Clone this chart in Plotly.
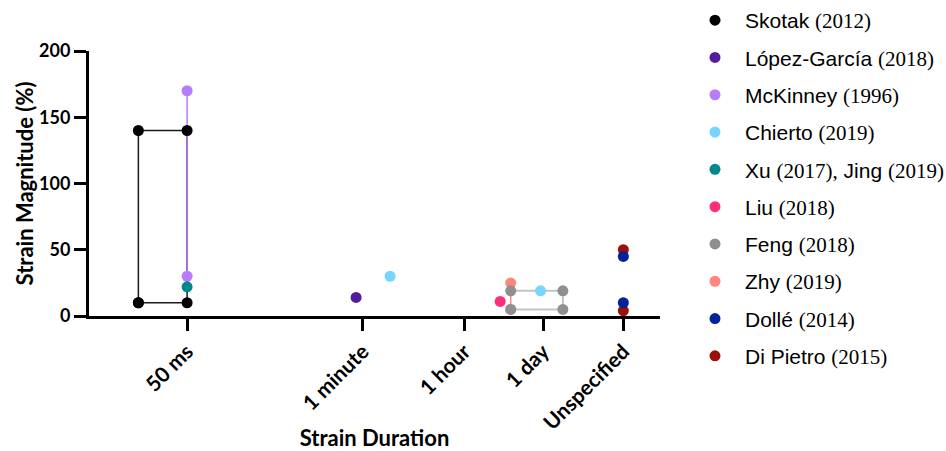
import plotly.graph_objects as go

# ---- data ----
UNSPEC = 2.2e6  # position used for "Unspecified" duration (seconds, log axis)
tick_vals = [0.05, 60, 3600, 86400, UNSPEC]
tick_text = ["50 ms", "1 minute", "1 hour", "1 day", "Unspecified"]
y_ticks = [0, 50, 100, 150, 200]

skotak_x = [0.0070, 0.0070, 0.05, 0.05, 0.0070]
skotak_y = [10, 140, 140, 10, 10]
mckinney_x = [0.05, 0.05]
mckinney_y = [170, 30]
xu_x = [0.05]
xu_y = [22]
lopez_x = [45.7]
lopez_y = [14]
liu_x = [15300]
liu_y = [11]
zhy_x = [23400, 23400]
zhy_y = [25, 5]
feng_x = [23400, 192000, 192000, 23400]
feng_y = [19, 19, 5, 5]
chierto_x = [180, 78000]
chierto_y = [30, 19]
dipietro_x = [UNSPEC, UNSPEC]
dipietro_y = [50, 4]
dolle_x = [UNSPEC, UNSPEC]
dolle_y = [45, 10]

SERIF = "font-family:'Liberation Serif', 'Times New Roman', serif"
def lab(name, year):
    return f'{name} <span style="{SERIF}">{year}</span>'

series = [
    # (x, y, name, marker colour, connecting-line colour or None, legend rank)
    (skotak_x, skotak_y, lab("Skotak", "(2012)"), "#000000", "#1a1a1a", 1),
    (mckinney_x, mckinney_y, lab("McKinney", "(1996)"), "#b77cff", "#b77cff", 3),
    (xu_x, xu_y, f'Xu <span style="{SERIF}">(2017),</span> Jing <span style="{SERIF}">(2019)</span>', "#00898b", None, 5),
    (lopez_x, lopez_y, lab("López-García", "(2018)"), "#531c9b", None, 2),
    (liu_x, liu_y, lab("Liu", "(2018)"), "#ff2d7a", None, 6),
    (zhy_x, zhy_y, lab("Zhy", "(2019)"), "#ff857d", "#ff857d", 8),
    (feng_x, feng_y, lab("Feng", "(2018)"), "#8f8f8f", "#c4c4c4", 7),
    (chierto_x, chierto_y, lab("Chierto", "(2019)"), "#77d6ff", None, 4),
    (dipietro_x, dipietro_y, lab("Di Pietro", "(2015)"), "#9b1208", None, 10),
    (dolle_x, dolle_y, lab("Dollé", "(2014)"), "#06229a", None, 9),
]

fig = go.Figure()
# connecting lines first (no legend entries)
for x, y, name, mc, lc, rank in series:
    if lc:
        fig.add_trace(go.Scatter(
            x=x, y=y, mode="lines", showlegend=False, hoverinfo="skip",
            line=dict(color=lc, width=2 if lc == "#c4c4c4" else 1.5),
        ))
# markers on top
for x, y, name, mc, lc, rank in series:
    fig.add_trace(go.Scatter(
        x=x, y=y, name=name, mode="markers",
        marker=dict(color=mc, size=11, line=dict(width=0)),
        legendrank=rank, legendgroup=f"g{rank}",
    ))

fig.update_layout(
    width=946, height=451,
    margin=dict(l=89, r=286, t=51, b=135),
    paper_bgcolor="white", plot_bgcolor="white",
    showlegend=True,
    legend=dict(
        x=685 / 946, xref="container", xanchor="left",
        y=1.0, yref="container", yanchor="top",
        font=dict(family="Liberation Sans, Arial, sans-serif", size=21, color="#000000"),
        tracegroupgap=7, itemwidth=50, bgcolor="rgba(0,0,0,0)",
        maxheight=451,
    ),
    xaxis=dict(
        type="log", range=[-3.02, 6.985], automargin=False,
        tickvals=tick_vals, ticktext=tick_text, tickangle=-45,
        showgrid=False, zeroline=False,
        showline=True, linecolor="#000000", linewidth=3,
        ticks="outside", ticklen=12, tickwidth=3, tickcolor="#000000",
        tickfont=dict(family="Lato", size=21, color="#000000", weight="bold"),
        title=dict(text="Strain Duration", font=dict(family="Lato", size=22, color="#000000", weight="bold"), standoff=18),
    ),
    yaxis=dict(
        range=[0, 200], tickvals=y_ticks, automargin=False,
        showgrid=False, zeroline=False,
        showline=True, linecolor="#000000", linewidth=3,
        ticks="outside", ticklen=12, tickwidth=3, tickcolor="#000000",
        tickfont=dict(family="Lato", size=18, color="#000000", weight="bold"),
        title=dict(text="Strain Magnitude (%)", font=dict(family="Lato", size=22, color="#000000", weight="bold"), standoff=0),
    ),
)
fig.write_html("out.html")
